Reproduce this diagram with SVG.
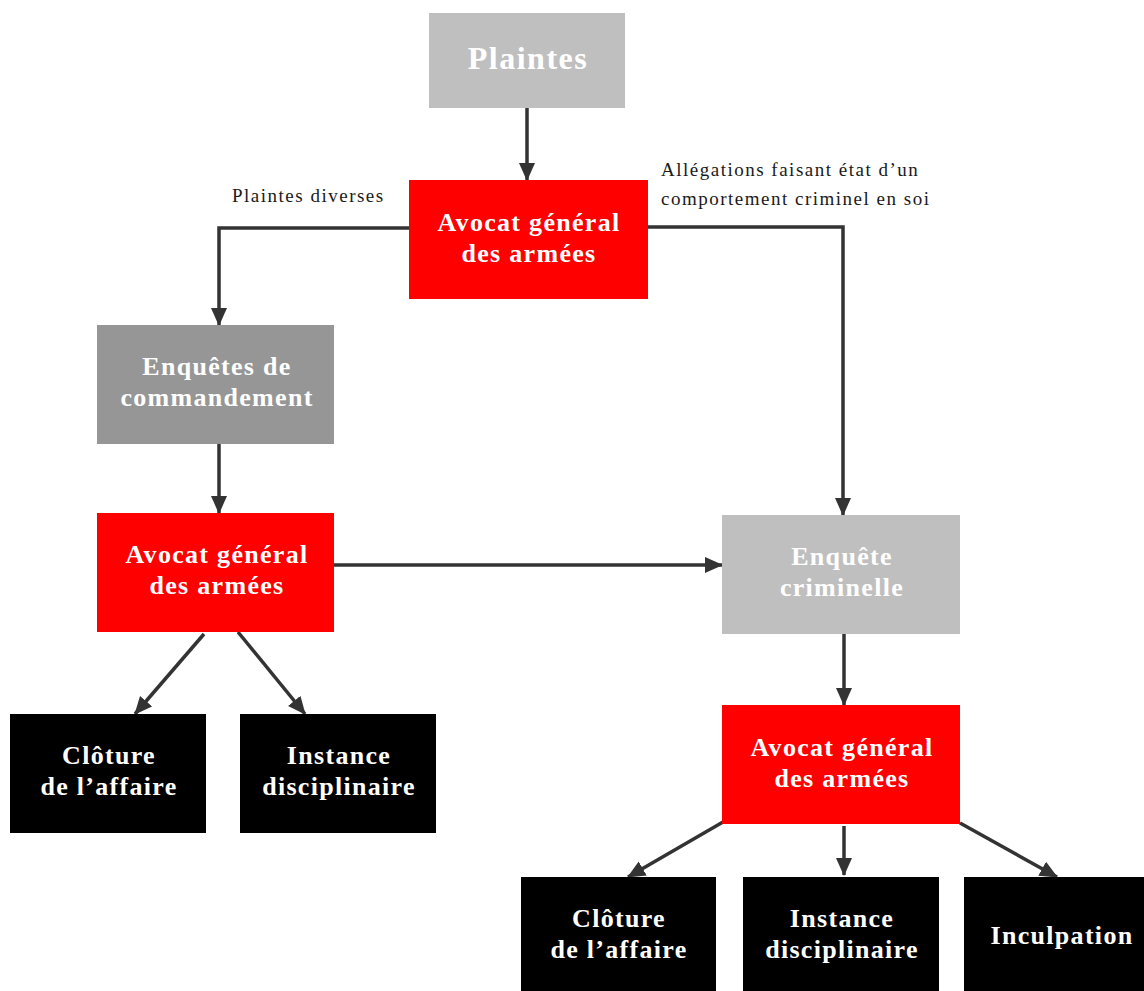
<svg xmlns="http://www.w3.org/2000/svg" width="1144" height="991" viewBox="0 0 1144 991">
<style>
.t{font-family:"Liberation Serif","Times New Roman",serif;font-weight:bold;fill:#ffffff;text-anchor:middle;font-size:26px;letter-spacing:1.3px}
.lbl{font-family:"Liberation Serif","Times New Roman",serif;fill:#1a1a1a;font-size:19px;letter-spacing:1.5px}
.c{stroke:#333333;stroke-width:3.5;fill:none;marker-end:url(#ah)}
</style>
<defs>
<marker id="ah" markerUnits="userSpaceOnUse" markerWidth="18" markerHeight="18" viewBox="0 0 18 18" refX="17" refY="9" orient="auto">
<path d="M0,1 L18,9 L0,17 Z" fill="#333333"/>
</marker>
</defs>
<rect width="1144" height="991" fill="#ffffff"/>
<g id="connectors">
<line class="c" x1="527" y1="108" x2="527" y2="180"/>
<polyline class="c" points="409,228 219,228 219,325"/>
<polyline class="c" points="648,227 843,227 843,515"/>
<line class="c" x1="219" y1="444" x2="219" y2="513"/>
<line class="c" x1="334" y1="565" x2="722" y2="565"/>
<line class="c" x1="844" y1="634" x2="844" y2="705"/>
<line class="c" x1="204" y1="634" x2="135" y2="714"/>
<line class="c" x1="238" y1="632" x2="305" y2="714"/>
<line class="c" x1="723" y1="822" x2="628" y2="877"/>
<line class="c" x1="844" y1="826" x2="844" y2="875"/>
<line class="c" x1="960" y1="823" x2="1057" y2="877"/>
<text class="lbl" x="232" y="202">Plaintes diverses</text>
<text class="lbl" x="661" y="176">Allégations faisant état d’un</text>
<text class="lbl" x="661" y="205">comportement criminel en soi</text>
</g>
<g id="plaintes">
<rect x="429" y="13" width="196" height="95" fill="#bfbfbf"/>
<text class="t" x="528" y="69" style="font-size:32px;letter-spacing:1.5px">Plaintes</text>
</g>
<g id="aga1">
<rect x="409" y="180" width="239" height="119" fill="#ff0000"/>
<text class="t" x="529" y="231">Avocat général</text>
<text class="t" x="529" y="262">des armées</text>
</g>
<g id="enquetes-commandement">
<rect x="97" y="325" width="237" height="119" fill="#969696"/>
<text class="t" x="217" y="375">Enquêtes de</text>
<text class="t" x="217" y="406">commandement</text>
</g>
<g id="aga2">
<rect x="97" y="513" width="237" height="119" fill="#ff0000"/>
<text class="t" x="217" y="563">Avocat général</text>
<text class="t" x="217" y="594">des armées</text>
</g>
<g id="enquete-criminelle">
<rect x="722" y="515" width="238" height="119" fill="#bfbfbf"/>
<text class="t" x="842" y="565">Enquête</text>
<text class="t" x="842" y="596">criminelle</text>
</g>
<g id="aga3">
<rect x="722" y="705" width="238" height="119" fill="#ff0000"/>
<text class="t" x="842" y="756">Avocat général</text>
<text class="t" x="842" y="787">des armées</text>
</g>
<g id="cloture1">
<rect x="10" y="714" width="196" height="119" fill="#000000"/>
<text class="t" x="109" y="764">Clôture</text>
<text class="t" x="109" y="795">de l’affaire</text>
</g>
<g id="instance1">
<rect x="240" y="714" width="196" height="119" fill="#000000"/>
<text class="t" x="339" y="764">Instance</text>
<text class="t" x="339" y="795">disciplinaire</text>
</g>
<g id="cloture2">
<rect x="521" y="877" width="195" height="114" fill="#000000"/>
<text class="t" x="619" y="927">Clôture</text>
<text class="t" x="619" y="958">de l’affaire</text>
</g>
<g id="instance2">
<rect x="743" y="877" width="196" height="114" fill="#000000"/>
<text class="t" x="842" y="927">Instance</text>
<text class="t" x="842" y="958">disciplinaire</text>
</g>
<g id="inculpation">
<rect x="964" y="877" width="180" height="114" fill="#000000"/>
<text class="t" x="1062" y="944">Inculpation</text>
</g>
</svg>
